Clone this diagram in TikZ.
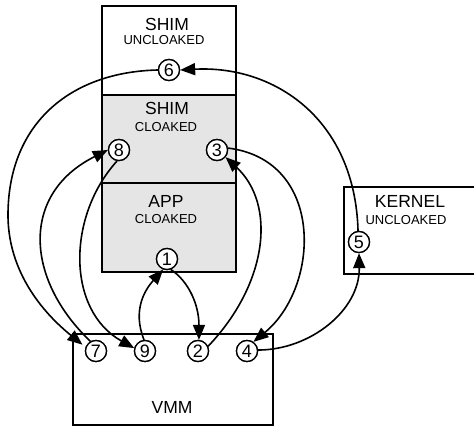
\documentclass[tikz,border=0pt]{standalone}
\usepackage{fontspec}
\setmainfont{Liberation Sans}
\usetikzlibrary{arrows.meta}
\begin{document}
\begin{tikzpicture}[x=1pt,y=-1pt,
  box/.style={draw=black,line width=2pt},
  cloaked/.style={box,fill=gray!20},
  big/.style={font=\fontsize{17.5}{18}\selectfont,inner sep=0pt},
  small/.style={font=\fontsize{13}{14}\selectfont,inner sep=0pt},
  num/.style={circle,draw=black,fill=white,line width=1.3pt,minimum size=21pt,inner sep=0pt,font=\fontsize{18}{18}\selectfont},
  arr/.style={line width=1.6pt,-{Triangle[length=15pt,width=12pt]}}]
\useasboundingbox (0,0) rectangle (474,428);
% boxes
\draw[box] (102,6) rectangle (236,95);
\draw[cloaked] (102,95) rectangle (236,183);
\draw[cloaked] (102,183) rectangle (236,272);
\draw[box] (344,187) rectangle (480,274);
\draw[box] (73,334) rectangle (273,425);
% labels
\node[big] (t1) at (167,24) {SHIM};
\node[small] (t2) at (164,40) {UNCLOAKED};
\node[big] (t3) at (167,108) {SHIM};
\node[small] (t4) at (166,127) {CLOAKED};
\node[big] (t5) at (166,201) {APP};
\node[small] (t6) at (166,219) {CLOAKED};
\node[big] (t7) at (410,201) {KERNEL};
\node[small] (t8) at (406,220) {UNCLOAKED};
\node[big] (t9) at (172,407) {VMM};
% numbered circles (coordinates first, drawn last)
\coordinate (c1) at (167,259);
\coordinate (c2) at (198,351);
\coordinate (c3) at (217,150);
\coordinate (c4) at (247,351);
\coordinate (c5) at (359,242);
\coordinate (c6) at (169,70);
\coordinate (c7) at (96,351);
\coordinate (c8) at (119,150);
\coordinate (c9) at (145,351);
\node[num] (n1) at (c1) {1};
\node[num] (n2) at (c2) {2};
\node[num] (n3) at (c3) {3};
\node[num] (n4) at (c4) {4};
\node[num] (n5) at (c5) {5};
\node[num] (n6) at (c6) {6};
\node[num] (n7) at (c7) {7};
\node[num] (n8) at (c8) {8};
\node[num] (n9) at (c9) {9};
% connectors
\draw[arr] (n9.95) .. controls +(-12,-30) and +(-18,20) .. (n1.-110);
\draw[arr] (n1.-70) .. controls +(18,12) and +(0,-35) .. (n2.85);
\draw[arr] (n2.25) .. controls +(60,-63) and +(51,47) .. (n3.-40);
\draw[arr] (n3.10) .. controls +(97,12) and +(67,-55) .. (n4.55);
\draw[arr] (n4.5) .. controls +(52,0) and +(1,57) .. (n5.-90);
\draw[arr] (n5.95) .. controls +(-3,-112) and +(94,-5) .. (n6.east);
\draw[arr,shorten >=4pt] (n6.west) .. controls +(-89,2) and +(0,-90) .. (8,215)
   .. controls +(0,65) and +(-32,-26) .. (n7.160);
\draw[arr] (n7.120) .. controls +(-65,-62) and +(-88,44) .. (n8.west);
\draw[arr] (n8.-100) .. controls +(-50,55) and +(-68,-38) .. (n9.165);
% circles on top
\node[num] at (c1) {1};
\node[num] at (c2) {2};
\node[num] at (c3) {3};
\node[num] at (c4) {4};
\node[num] at (c5) {5};
\node[num] at (c6) {6};
\node[num] at (c7) {7};
\node[num] at (c8) {8};
\node[num] at (c9) {9};
\end{tikzpicture}
\end{document}
